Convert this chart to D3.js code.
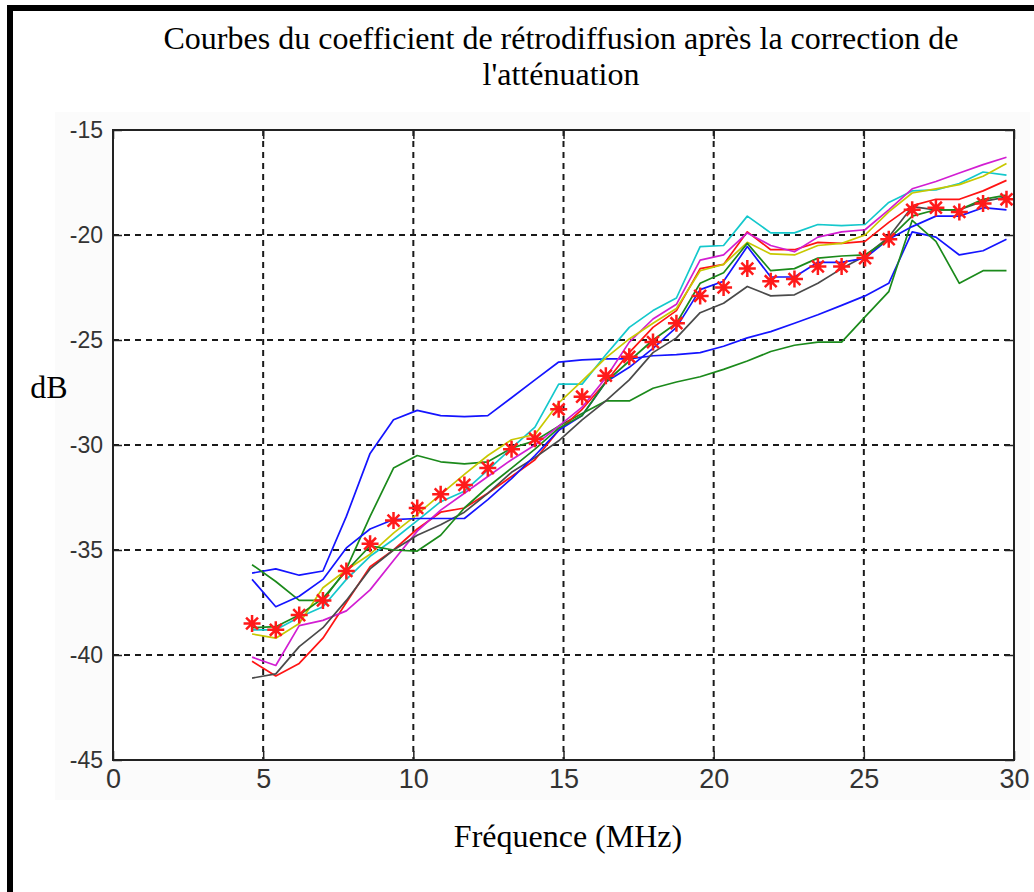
<!DOCTYPE html>
<html>
<head>
<meta charset="utf-8">
<script src="https://cdn.jsdelivr.net/npm/d3@7"></script>
<style>
  html, body { margin: 0; padding: 0; background: #ffffff; }
  svg { display: block; }
</style>
</head>
<body>
<svg id="chart" width="1034" height="892"></svg>
<script>
// Frequency samples (MHz) shared by every curve
const freqMHz = [4.63, 5.42, 6.20, 6.99, 7.77, 8.56, 9.34, 10.13, 10.91, 11.70, 12.48,
  13.27, 14.05, 14.84, 15.62, 16.41, 17.19, 17.98, 18.76, 19.55, 20.33, 21.12,
  21.90, 22.69, 23.47, 24.26, 25.04, 25.83, 26.61, 27.40, 28.18, 28.97, 29.75];

// Backscatter coefficient curves (dB) after attenuation correction
const blueA = [-36.1, -35.9, -36.2, -36.0, -33.4, -30.4, -28.8, -28.35, -28.6, -28.65, -28.6,
  -27.75, -26.9, -26.05, -25.95, -25.9, -25.9, -25.75, -25.7, -25.6, -25.3, -24.9,
  -24.6, -24.2, -23.8, -23.35, -22.9, -22.3, -19.85, -20.1, -20.95, -20.75, -20.2];
const greenA = [-35.7, -36.5, -37.4, -37.4, -35.9, -33.4, -31.1, -30.5, -30.8, -30.9, -30.8,
  -30.15, -29.8, -29.1, -28.5, -27.9, -27.9, -27.3, -27.0, -26.75, -26.4, -26.0,
  -25.55, -25.25, -25.1, -25.1, -23.9, -22.7, -19.3, -20.3, -22.3, -21.7, -21.7];
const red = [-40.3, -41.0, -40.4, -39.2, -37.5, -35.8, -35.0, -34.0, -33.2, -33.0, -32.3,
  -31.5, -30.7, -29.3, -28.3, -27.0, -25.6, -24.4, -23.6, -21.6, -21.4, -19.85,
  -20.7, -20.7, -20.35, -20.4, -20.3, -19.4, -18.6, -18.3, -18.3, -17.9, -17.4];
const cyan = [-38.8, -38.8, -38.2, -37.7, -36.4, -35.3, -34.5, -33.6, -32.7, -32.2, -31.2,
  -30.15, -29.15, -27.1, -27.1, -25.7, -24.4, -23.6, -23.0, -20.55, -20.5, -19.1,
  -19.9, -19.9, -19.5, -19.55, -19.5, -18.45, -17.9, -17.85, -17.55, -17.0, -17.15];
const magenta = [-40.1, -40.5, -38.6, -38.35, -37.9, -36.9, -35.5, -34.1, -33.1, -32.3, -31.5,
  -30.7, -30.0, -29.1, -28.2, -26.8, -25.1, -24.0, -23.3, -21.2, -20.95, -19.9,
  -20.5, -20.8, -20.1, -19.85, -19.75, -18.8, -17.8, -17.45, -17.05, -16.65, -16.3];
const yellow = [-39.0, -39.2, -38.5, -36.8, -35.95, -35.2, -34.2, -33.3, -32.35, -31.4, -30.5,
  -29.75, -29.5, -28.0, -26.95, -25.85, -24.95, -24.2, -23.5, -21.7, -21.4, -20.35,
  -20.9, -20.95, -20.5, -20.4, -20.0, -18.9, -18.0, -17.8, -17.6, -17.2, -16.6];
const black = [-41.1, -40.9, -39.6, -38.7, -37.4, -35.9, -35.0, -34.3, -33.8, -33.2, -32.3,
  -31.3, -30.6, -29.8, -28.8, -27.9, -26.9, -25.6, -24.9, -23.7, -23.25, -22.45,
  -22.9, -22.85, -22.3, -21.6, -21.0, -20.1, -18.65, -18.8, -18.8, -18.4, -18.2];
const blueB = [-36.4, -37.7, -37.2, -36.4, -34.9, -34.0, -33.55, -33.5, -33.5, -33.5, -32.6,
  -31.6, -30.5, -29.3, -28.6, -27.0, -26.3, -25.4, -24.4, -22.6, -22.2, -20.55,
  -22.0, -22.0, -21.3, -21.3, -21.1, -20.2, -19.6, -19.1, -19.1, -18.7, -18.8];
const greenB = [-38.7, -38.65, -38.1, -37.3, -36.0, -34.8, -35.0, -35.05, -34.3, -33.0, -32.0,
  -31.1, -30.2, -29.2, -28.6, -27.0, -26.0, -25.0, -24.2, -22.3, -21.8, -20.4,
  -21.7, -21.6, -21.1, -21.0, -20.95, -20.2, -19.1, -18.8, -18.8, -18.3, -18.1];
// Mean curve, drawn with star markers
const meanStars = [-38.5, -38.8, -38.1, -37.4, -36.0, -34.7, -33.6, -33.0, -32.35, -31.9, -31.1,
  -30.2, -29.7, -28.3, -27.7, -26.7, -25.8, -25.1, -24.2, -22.9, -22.5, -21.6,
  -22.2, -22.1, -21.5, -21.5, -21.1, -20.2, -18.8, -18.7, -18.9, -18.5, -18.3];

const xTicks = [0, 5, 10, 15, 20, 25, 30];
const yTicks = [-45, -40, -35, -30, -25, -20, -15];

const titleLines = ["Courbes du coefficient de rétrodiffusion après la correction de", "l'atténuation"];
const xLabel = "Fréquence (MHz)";
const yLabel = "dB";

const curves = [
  { values: blueA,   color: "#1414ff" },
  { values: greenA,  color: "#1b8a1b" },
  { values: red,     color: "#ff1414" },
  { values: cyan,    color: "#14c8cc" },
  { values: magenta, color: "#d21ed2" },
  { values: yellow,  color: "#c8c800" },
  { values: black,   color: "#4a4a4a" },
  { values: blueB,   color: "#1414ff" },
  { values: greenB,  color: "#1b8a1b" }
];

const svg = d3.select("#chart");
const W = 1034, H = 892;
const plot = { left: 113, right: 1014, top: 130, bottom: 760 };

const x = d3.scaleLinear().domain([0, 30]).range([plot.left, plot.right]);
const y = d3.scaleLinear().domain([-45, -15]).range([plot.bottom, plot.top]);

// page background and the figure frame
svg.append("rect").attr("width", W).attr("height", H).attr("fill", "#ffffff");
svg.append("rect").attr("x", 55).attr("y", 112).attr("width", 975).attr("height", 688).attr("fill", "#fbfbfb");
svg.append("rect").attr("x", 7).attr("y", 5).attr("width", W - 7).attr("height", 6).attr("fill", "#000");
svg.append("rect").attr("x", 7).attr("y", 5).attr("width", 6).attr("height", H - 5).attr("fill", "#000");

// axes area
svg.append("rect")
  .attr("x", plot.left).attr("y", plot.top)
  .attr("width", plot.right - plot.left).attr("height", plot.bottom - plot.top)
  .attr("fill", "#ffffff");

// dashed grid
const grid = svg.append("g").attr("stroke", "#1a1a1a").attr("stroke-width", 2).attr("stroke-dasharray", "6,5");
grid.selectAll("line.gx").data(xTicks.slice(1, -1)).join("line")
  .attr("x1", d => x(d)).attr("x2", d => x(d))
  .attr("y1", plot.top).attr("y2", plot.bottom);
grid.selectAll("line.gy").data(yTicks.slice(1, -1)).join("line")
  .attr("x1", plot.left).attr("x2", plot.right)
  .attr("y1", d => y(d)).attr("y2", d => y(d));

// curves
const line = d3.line().x((d, i) => x(freqMHz[i])).y(d => y(d));
const curveG = svg.append("g").attr("fill", "none").attr("stroke-width", 1.7).attr("stroke-linejoin", "round");
curves.forEach(c => {
  curveG.append("path").attr("d", line(c.values)).attr("stroke", c.color);
});

// star markers for the mean
const starPath = (r) => {
  const d = r * 0.7;
  return `M${-r},0L${r},0M0,${-r}L0,${r}M${-d},${-d}L${d},${d}M${-d},${d}L${d},${-d}`;
};
svg.append("g").selectAll("path").data(meanStars).join("path")
  .attr("transform", (d, i) => `translate(${x(freqMHz[i])},${y(d)})`)
  .attr("d", starPath(8.5))
  .attr("fill", "none").attr("stroke", "#ff1a1a").attr("stroke-width", 2.5);

// axes with inward ticks
const tickFont = "'Liberation Sans', Arial, sans-serif";
const xAxis = svg.append("g").attr("transform", `translate(0,${plot.bottom})`)
  .call(d3.axisBottom(x).tickValues(xTicks).tickSizeInner(-9).tickSizeOuter(0).tickPadding(9).tickFormat(d => String(d)));
const yAxis = svg.append("g").attr("transform", `translate(${plot.left},0)`)
  .call(d3.axisLeft(y).tickValues(yTicks).tickSizeInner(-9).tickSizeOuter(0).tickPadding(10).tickFormat(d => String(d)));
const xTop = svg.append("g").attr("transform", `translate(0,${plot.top})`)
  .call(d3.axisTop(x).tickValues(xTicks).tickSizeInner(-9).tickSizeOuter(0).tickFormat(""));
const yRight = svg.append("g").attr("transform", `translate(${plot.right},0)`)
  .call(d3.axisRight(y).tickValues(yTicks).tickSizeInner(-9).tickSizeOuter(0).tickFormat(""));

[xAxis, yAxis, xTop, yRight].forEach(g => {
  g.select(".domain").remove();
  g.selectAll(".tick line").attr("stroke", "#222").attr("stroke-width", 1.5);
});
xAxis.selectAll("text").attr("font-family", tickFont).attr("font-size", 27).attr("fill", "#333");
yAxis.selectAll("text").attr("font-family", tickFont).attr("font-size", 23).attr("fill", "#333");

// axes box
svg.append("rect")
  .attr("x", plot.left).attr("y", plot.top)
  .attr("width", plot.right - plot.left).attr("height", plot.bottom - plot.top)
  .attr("fill", "none").attr("stroke", "#222").attr("stroke-width", 2);

// title and axis labels
const serif = "'Liberation Serif', 'Times New Roman', serif";
svg.append("g").selectAll("text").data(titleLines).join("text")
  .attr("x", 561).attr("y", (d, i) => 49 + i * 36)
  .attr("text-anchor", "middle").attr("font-family", serif).attr("font-size", 32).attr("fill", "#000")
  .text(d => d);
svg.append("text").attr("x", 568).attr("y", 847).attr("text-anchor", "middle")
  .attr("font-family", serif).attr("font-size", 32).attr("fill", "#000").text(xLabel);
svg.append("text").attr("x", 49).attr("y", 398).attr("text-anchor", "middle")
  .attr("font-family", serif).attr("font-size", 32).attr("fill", "#000").text(yLabel);
</script>
</body>
</html>
